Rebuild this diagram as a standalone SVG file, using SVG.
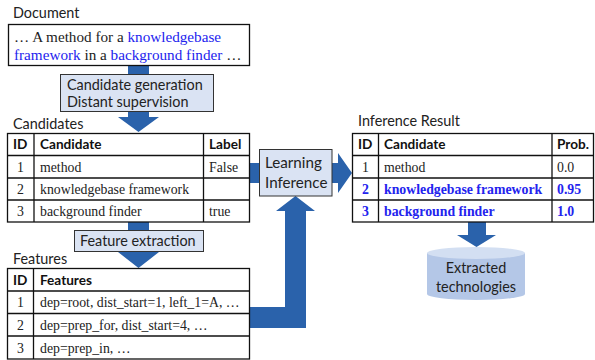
<svg xmlns="http://www.w3.org/2000/svg" width="595" height="360" viewBox="0 0 595 360">
<style>
.sans{font-family:Lato,"Liberation Sans",sans-serif;fill:#222}
.h{font-size:14.4px}
.th{font-family:Lato,"Liberation Sans",sans-serif;font-weight:bold;font-size:13.6px;fill:#111}
.tt{font-family:"Liberation Serif","Times New Roman",serif;font-size:13.8px;fill:#222}
.dt{font-size:15.2px}
.bl{fill:#2323ee}
.b{font-weight:bold}
.tb{fill:#fff;stroke:#111;stroke-width:1.3}
.ln{stroke:#111;stroke-width:1.3}
.lab{fill:#dae3f3;stroke:#333;stroke-width:1}
.arr{fill:#2a62ab}
</style>
<g id="connectors">
<polygon class="arr" points="128,66 149,66 149,117 159,117 138.5,132 118,117 128,117"/>
<polygon class="arr" points="128,222 149,222 149,252 159,252 138.5,268 118,252 128,252"/>
<polygon class="arr" points="250,163 338,163 338,153 352,173 338,193 338,183 250,183"/>
<polygon class="arr" points="250,307 285,307 285,211 276,211 295.5,196 315,211 306,211 306,328 250,328"/>
<polygon class="arr" points="468,222 486,222 486,235 496,235 476.5,247 457,235 468,235"/>
</g>
<g id="document">
<text class="sans h" x="13" y="18">Document</text>
<rect class="tb" x="8.5" y="24.5" width="241" height="41"/>
<text class="tt dt" x="14" y="42">… A method for a <tspan class="bl">knowledgebase</tspan></text>
<text class="tt dt" x="14" y="60"><tspan class="bl">framework</tspan> in a <tspan class="bl">background finder</tspan> …</text>
</g>
<g id="candidate-generation">
<rect class="lab" x="60.5" y="74.5" width="153" height="37"/>
<text class="sans h" x="67" y="90">Candidate generation</text>
<text class="sans h" x="67" y="107">Distant supervision</text>
</g>
<g id="candidates">
<text class="sans h" x="13" y="129">Candidates</text>
<rect class="tb" x="7.5" y="133.5" width="242" height="88.5"/>
<line class="ln" x1="7.5" y1="155.5" x2="249.5" y2="155.5"/>
<line class="ln" x1="7.5" y1="178" x2="249.5" y2="178"/>
<line class="ln" x1="7.5" y1="200" x2="249.5" y2="200"/>
<line class="ln" x1="34" y1="133.5" x2="34" y2="222"/>
<line class="ln" x1="203.5" y1="133.5" x2="203.5" y2="222"/>
<text class="th" x="13" y="149">ID</text>
<text class="th" x="40" y="149">Candidate</text>
<text class="th" x="209" y="149">Label</text>
<text class="tt" x="20.5" y="172" text-anchor="middle">1</text>
<text class="tt" x="40" y="172">method</text>
<text class="tt" x="209" y="172">False</text>
<text class="tt" x="20.5" y="194" text-anchor="middle">2</text>
<text class="tt" x="40" y="194">knowledgebase framework</text>
<text class="tt" x="20.5" y="216" text-anchor="middle">3</text>
<text class="tt" x="40" y="216">background finder</text>
<text class="tt" x="209" y="216">true</text>
</g>
<g id="feature-extraction">
<rect class="lab" x="74.5" y="230.5" width="129" height="21"/>
<text class="sans h" x="80" y="246">Feature extraction</text>
</g>
<g id="features">
<text class="sans h" x="13" y="264">Features</text>
<rect class="tb" x="7.5" y="268.5" width="242" height="90.5"/>
<line class="ln" x1="7.5" y1="291" x2="249.5" y2="291"/>
<line class="ln" x1="7.5" y1="313.5" x2="249.5" y2="313.5"/>
<line class="ln" x1="7.5" y1="336" x2="249.5" y2="336"/>
<line class="ln" x1="33.5" y1="268.5" x2="33.5" y2="359"/>
<text class="th" x="13" y="285">ID</text>
<text class="th" x="40" y="285">Features</text>
<text class="tt" x="20.5" y="307" text-anchor="middle">1</text>
<text class="tt" x="40" y="307">dep=root, dist_start=1, left_1=A, …</text>
<text class="tt" x="20.5" y="330" text-anchor="middle">2</text>
<text class="tt" x="40" y="330">dep=prep_for, dist_start=4, …</text>
<text class="tt" x="20.5" y="353" text-anchor="middle">3</text>
<text class="tt" x="40" y="353">dep=prep_in, …</text>
</g>
<g id="learning-inference">
<rect class="lab" x="259.5" y="149.5" width="72.5" height="46.5"/>
<text class="sans" style="font-size:15.2px" x="265" y="168">Learning</text>
<text class="sans" style="font-size:15.2px" x="265" y="188">Inference</text>
</g>
<g id="inference-result">
<text class="sans h" x="358" y="126">Inference Result</text>
<rect class="tb" x="352.5" y="133.5" width="241" height="88.5"/>
<line class="ln" x1="352.5" y1="155.5" x2="593.5" y2="155.5"/>
<line class="ln" x1="352.5" y1="178" x2="593.5" y2="178"/>
<line class="ln" x1="352.5" y1="200" x2="593.5" y2="200"/>
<line class="ln" x1="378.5" y1="133.5" x2="378.5" y2="222"/>
<line class="ln" x1="552" y1="133.5" x2="552" y2="222"/>
<text class="th" x="358" y="149">ID</text>
<text class="th" x="384" y="149">Candidate</text>
<text class="th" x="557" y="149">Prob.</text>
<text class="tt" x="365.5" y="172" text-anchor="middle">1</text>
<text class="tt" x="384" y="172">method</text>
<text class="tt" x="557" y="172">0.0</text>
<text class="tt bl b" x="365.5" y="194" text-anchor="middle">2</text>
<text class="tt bl b" x="384" y="194">knowledgebase framework</text>
<text class="tt bl b" x="557" y="194">0.95</text>
<text class="tt bl b" x="365.5" y="216" text-anchor="middle">3</text>
<text class="tt bl b" x="384" y="216">background finder</text>
<text class="tt bl b" x="557" y="216">1.0</text>
</g>
<g id="extracted-technologies">
<path d="M427,253 L427,294 A49,6 0 0 0 525,294 L525,253 Z" fill="#b4c7e7"/>
<ellipse cx="476" cy="253" rx="49" ry="6" fill="#d3dff2"/>
<text class="sans h" x="476" y="273" text-anchor="middle">Extracted</text>
<text class="sans h" x="476" y="292" text-anchor="middle">technologies</text>
</g>
</svg>
